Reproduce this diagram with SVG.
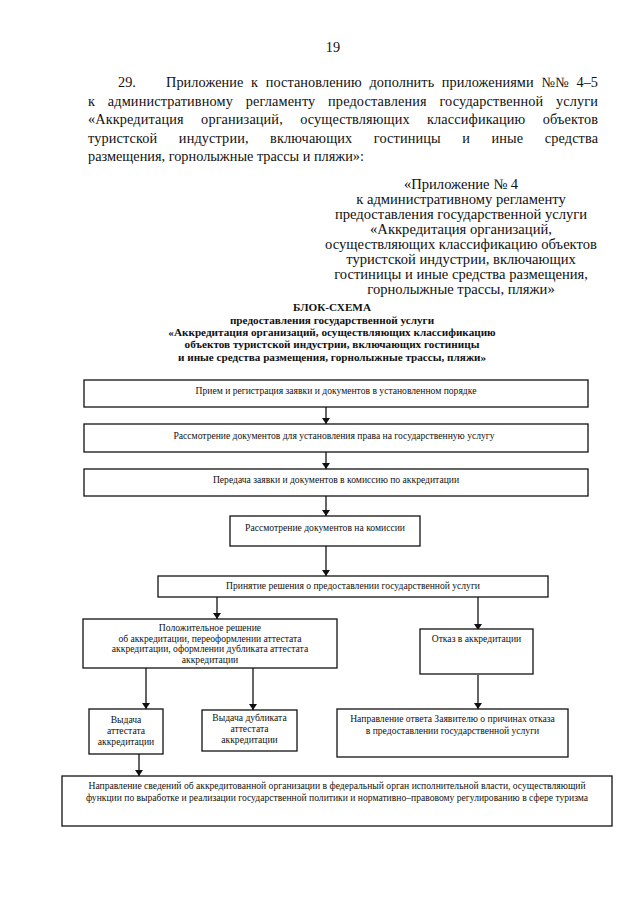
<svg xmlns="http://www.w3.org/2000/svg" width="639" height="904" viewBox="0 0 639 904">
<defs>
<marker id="ah" viewBox="0 0 6 8" refX="6" refY="4" markerWidth="6" markerHeight="8" orient="auto" markerUnits="userSpaceOnUse">
<path d="M0,0 L6,4 L0,8 Z" fill="#111"/>
</marker>
</defs>
<style>
text{font-family:"Liberation Serif","Times New Roman",serif;fill:#111}
.p{font-size:14.3px}
.a{font-size:14.6px;text-anchor:middle}
.t{font-size:11.2px;font-weight:bold;text-anchor:middle}
.b{font-size:9.6px;text-anchor:middle}
.box{fill:#fff;stroke:#111;stroke-width:1.3}
.c{stroke:#111;stroke-width:1.3;fill:none}
.arr{marker-end:url(#ah)}
</style>
<rect width="639" height="904" fill="#fff"/>
<text class="p" x="333" y="52" text-anchor="middle">19</text>
<g id="paragraph">
<text class="p" x="118" y="87">29.</text>
<text class="p" x="166" y="87" word-spacing="4" textLength="432" lengthAdjust="spacing">Приложение к постановлению дополнить приложениями №№ 4–5</text>
<text class="p" x="88" y="105.5" word-spacing="9" textLength="510" lengthAdjust="spacing">к административному регламенту предоставления государственной услуги</text>
<text class="p" x="88" y="124" word-spacing="13.7" textLength="510" lengthAdjust="spacing">«Аккредитация организаций, осуществляющих классификацию объектов</text>
<text class="p" x="88" y="142.5" word-spacing="17.8" textLength="510" lengthAdjust="spacing">туристской индустрии, включающих гостиницы и иные средства</text>
<text class="p" x="88" y="161">размещения, горнолыжные трассы и пляжи»:</text>
</g>
<g id="appendix-note">
<text class="a" x="461" y="188.5">«Приложение № 4</text>
<text class="a" x="461" y="203.6">к административному регламенту</text>
<text class="a" x="461" y="218.7">предоставления государственной услуги</text>
<text class="a" x="461" y="233.8">«Аккредитация организаций,</text>
<text class="a" x="461" y="248.9">осуществляющих классификацию объектов</text>
<text class="a" x="461" y="264">туристской индустрии, включающих</text>
<text class="a" x="461" y="279.1">гостиницы и иные средства размещения,</text>
<text class="a" x="461" y="294.2">горнолыжные трассы, пляжи»</text>
</g>
<g id="title">
<text class="t" x="332" y="311">БЛОК-СХЕМА</text>
<text class="t" x="332" y="324">предоставления государственной услуги</text>
<text class="t" x="332" y="336">«Аккредитация организаций, осуществляющих классификацию</text>
<text class="t" x="332" y="348">объектов туристской индустрии, включающих гостиницы</text>
<text class="t" x="332" y="361">и иные средства размещения, горнолыжные трассы, пляжи»</text>
</g>
<g id="connectors">
<line class="c arr" x1="326" y1="407" x2="326" y2="424"/>
<line class="c arr" x1="326" y1="452" x2="326" y2="469"/>
<line class="c arr" x1="326" y1="496" x2="326" y2="516"/>
<line class="c arr" x1="326" y1="546" x2="326" y2="576"/>
<line class="c arr" x1="217" y1="597" x2="217" y2="619"/>
<line class="c arr" x1="478" y1="597" x2="478" y2="630"/>
<line class="c arr" x1="146" y1="668" x2="146" y2="709"/>
<line class="c arr" x1="253" y1="668" x2="253" y2="710"/>
<line class="c arr" x1="478" y1="675" x2="478" y2="709"/>
<line class="c arr" x1="139" y1="754" x2="139" y2="776"/>
</g>
<g id="n1">
<rect class="box" x="84" y="380" width="504" height="27"/>
<text class="b" x="336" y="393.5">Прием и регистрация заявки и документов в установленном порядке</text>
</g>
<g id="n2">
<rect class="box" x="84" y="424" width="504" height="28"/>
<text class="b" x="334" y="438.5">Рассмотрение документов для установления права на государственную услугу</text>
</g>
<g id="n3">
<rect class="box" x="84" y="469" width="504" height="27"/>
<text class="b" x="336" y="482.5">Передача заявки и документов в комиссию по аккредитации</text>
</g>
<g id="n4">
<rect class="box" x="230" y="516" width="190" height="30"/>
<text class="b" x="325" y="530.5">Рассмотрение документов на комиссии</text>
</g>
<g id="n5">
<rect class="box" x="158" y="576" width="390" height="21"/>
<text class="b" x="353" y="588.5">Принятие решения о предоставлении государственной услуги</text>
</g>
<g id="n6">
<rect class="box" x="83" y="619" width="254" height="49"/>
<text class="b" x="210" y="631">Положительное решение</text>
<text class="b" x="210" y="641.5">об аккредитации, переоформлении аттестата</text>
<text class="b" x="210" y="652">аккредитации, оформлении дубликата аттестата</text>
<text class="b" x="210" y="662.5">аккредитации</text>
</g>
<g id="n7">
<rect class="box" x="420" y="629" width="113" height="45"/>
<text class="b" x="476.5" y="642">Отказ в аккредитации</text>
</g>
<g id="n8">
<rect class="box" x="89" y="709" width="74" height="45"/>
<text class="b" x="126" y="723">Выдача</text>
<text class="b" x="126" y="734">аттестата</text>
<text class="b" x="126" y="745">аккредитации</text>
</g>
<g id="n9">
<rect class="box" x="202" y="710" width="95" height="41"/>
<text class="b" x="249.5" y="721">Выдача дубликата</text>
<text class="b" x="249.5" y="732">аттестата</text>
<text class="b" x="249.5" y="743">аккредитации</text>
</g>
<g id="n10">
<rect class="box" x="337" y="709" width="231" height="48"/>
<text class="b" x="452.5" y="722">Направление ответа Заявителю о причинах отказа</text>
<text class="b" x="452.5" y="734">в предоставлении государственной услуги</text>
</g>
<g id="n11">
<rect class="box" x="62" y="776" width="550" height="50"/>
<text class="b" x="337" y="789">Направление сведений об аккредитованной организации в федеральный орган исполнительной власти, осуществляющий</text>
<text class="b" x="337" y="801">функции по выработке и реализации государственной политики и нормативно–правовому регулированию в сфере туризма</text>
</g>
</svg>
